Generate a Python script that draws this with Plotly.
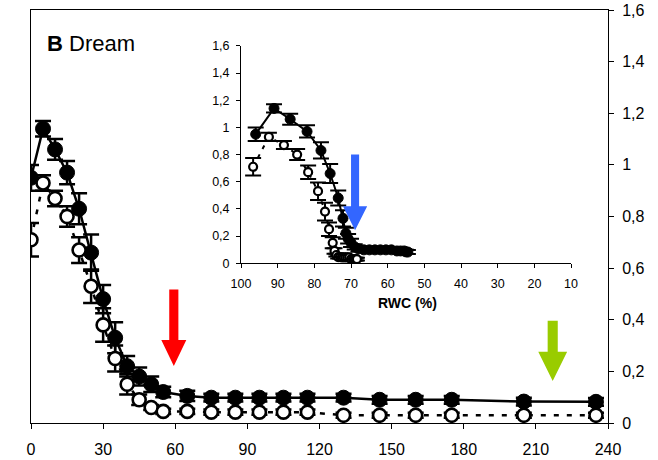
import plotly.graph_objects as go

# ---- data ----
time_days = [0, 5, 10, 15, 20, 25, 30, 35, 40, 45, 50, 55, 65, 75, 85, 95, 105, 115, 130, 145, 160, 175, 205, 235]
filled_y = [0.95, 1.14, 1.06, 0.97, 0.83, 0.66, 0.48, 0.33, 0.22, 0.18, 0.15, 0.12, 0.105, 0.098, 0.098, 0.098, 0.098, 0.098, 0.098, 0.09, 0.09, 0.09, 0.083, 0.082]
filled_err = [0.05, 0.03, 0.04, 0.045, 0.06, 0.07, 0.055, 0.06, 0.04, 0.035, 0.03, 0.02, 0.02, 0.015, 0.015, 0.015, 0.015, 0.015, 0.015, 0.015, 0.015, 0.015, 0.015, 0.015]
open_y = [0.71, 0.93, 0.87, 0.80, 0.67, 0.53, 0.38, 0.25, 0.15, 0.09, 0.06, 0.045, 0.045, 0.042, 0.042, 0.042, 0.042, 0.042, 0.03, 0.03, 0.03, 0.03, 0.03, 0.03]
open_err = [0.065, 0.03, 0.03, 0.04, 0.05, 0.065, 0.065, 0.05, 0.04, 0.02, 0.01, 0.01, 0.01, 0.01, 0.01, 0.01, 0.01, 0.01, 0.01, 0.01, 0.01, 0.01, 0.01, 0.01]

rwc_filled = [96, 91, 86.6, 82, 78.2, 75.7, 73.5, 72.2, 71.4, 70.8, 70, 69, 68, 66.5, 65, 63.5, 62, 60.5, 59, 57.5, 56.5, 55.5, 55, 54.5]
rwc_open = [96.7, 92.4, 88.3, 84.7, 81.7, 79, 77.1, 76, 75, 74.5, 74, 73.5, 73, 72.5, 72, 71.5, 71, 70.5, 70, 69.5, 69.2, 69, 68.7, 68.4]

x_ticks = [0, 30, 60, 90, 120, 150, 180, 210, 240]
y_ticks = [0, 0.2, 0.4, 0.6, 0.8, 1.0, 1.2, 1.4, 1.6]
y_ticklabels = ["0", "0,2", "0,4", "0,6", "0,8", "1", "1,2", "1,4", "1,6"]
inset_x_ticks = [100, 90, 80, 70, 60, 50, 40, 30, 20, 10]

FONT = "Liberation Sans, Arial, sans-serif"

fig = go.Figure()

# main plot
fig.add_trace(go.Scatter(
    x=time_days, y=filled_y, mode="lines+markers",
    line=dict(color="black", width=2.5),
    marker=dict(size=15, color="black", line=dict(color="black", width=1)),
    error_y=dict(type="data", array=filled_err, color="black", thickness=2.5, width=8),
    xaxis="x", yaxis="y", showlegend=False))
fig.add_trace(go.Scatter(
    x=time_days, y=open_y, mode="lines+markers",
    line=dict(color="black", width=2.5, dash="5px,8px"),
    marker=dict(size=13, color="white", line=dict(color="black", width=2.6)),
    error_y=dict(type="data", array=open_err, color="black", thickness=2.5, width=8),
    xaxis="x", yaxis="y", showlegend=False))

# inset
fig.add_trace(go.Scatter(
    x=rwc_filled, y=filled_y, mode="lines+markers",
    line=dict(color="black", width=2),
    marker=dict(size=10, color="black", line=dict(color="black", width=1)),
    error_y=dict(type="data", array=filled_err, color="black", thickness=2, width=8),
    xaxis="x2", yaxis="y2", showlegend=False))
fig.add_trace(go.Scatter(
    x=rwc_open, y=open_y, mode="lines+markers",
    line=dict(color="black", width=2, dash="4px,6px"),
    marker=dict(size=8, color="white", line=dict(color="black", width=2.2)),
    error_y=dict(type="data", array=open_err, color="black", thickness=2, width=8),
    xaxis="x2", yaxis="y2", showlegend=False))


def arrow(xc, y_top, y_neck, y_tip, shaft_hw, head_hw):
    return (f"M {xc - shaft_hw} {y_top} L {xc + shaft_hw} {y_top} L {xc + shaft_hw} {y_neck} "
            f"L {xc + head_hw} {y_neck} L {xc} {y_tip} L {xc - head_hw} {y_neck} "
            f"L {xc - shaft_hw} {y_neck} Z")


shapes = [
    dict(type="path", xref="x", yref="y", path=arrow(59.4, 0.517, 0.322, 0.221, 1.9, 5.2),
         fillcolor="#FF0000", line=dict(width=0), layer="above"),
    dict(type="path", xref="x", yref="y", path=arrow(217, 0.396, 0.276, 0.163, 2.1, 6.0),
         fillcolor="#99CC00", line=dict(width=0), layer="above"),
    dict(type="path", xref="x2", yref="y2", path=arrow(68.9, 0.80, 0.42, 0.243, 1.1, 3.3),
         fillcolor="#3366FF", line=dict(width=0), layer="above"),
]

fig.update_layout(
    width=658, height=460,
    margin=dict(l=31, r=50, t=10, b=37, autoexpand=False),
    paper_bgcolor="white", plot_bgcolor="white",
    font=dict(family=FONT, color="black", size=14),
    shapes=shapes,
    xaxis=dict(
        domain=[0, 1], range=[0, 240], tickvals=x_ticks, ticks="outside", ticklen=5,
        tickcolor="black", showline=True, linecolor="black", linewidth=1, mirror=True,
        showgrid=False, zeroline=False, automargin=False, ticklabelstandoff=7,
        tickfont=dict(size=16, family=FONT)),
    yaxis=dict(
        domain=[0, 1], range=[0, 1.6], side="right", tickvals=y_ticks, ticktext=y_ticklabels,
        ticks="outside", ticklen=5, tickcolor="black", showline=True, linecolor="black",
        linewidth=1, mirror=True, showgrid=False, zeroline=False, automargin=False,
        ticklabelstandoff=5, tickfont=dict(size=16, family=FONT)),
    xaxis2=dict(
        domain=[0.364, 0.936], anchor="y2", range=[100, 10], tickvals=inset_x_ticks,
        ticks="outside", ticklen=4, tickcolor="black", showline=True, linecolor="black",
        linewidth=1, showgrid=False, zeroline=False, automargin=False,
        ticklabelstandoff=5, tickfont=dict(size=12.5, family=FONT)),
    yaxis2=dict(
        domain=[0.387, 0.913], anchor="x2", range=[0, 1.6], tickvals=y_ticks,
        ticktext=y_ticklabels, ticks="outside", ticklen=4, tickcolor="black",
        showline=True, linecolor="black", linewidth=1, showgrid=False, zeroline=False,
        automargin=False, ticklabelstandoff=4, tickfont=dict(size=12.5, family=FONT)),
    annotations=[
        dict(text="<b>B</b> Dream", xref="paper", yref="paper", x=0.025, y=0.92,
             xanchor="left", yanchor="middle", showarrow=False,
             font=dict(size=22, family=FONT, color="black")),
        dict(text="<b>RWC (%)</b>", xref="x2", yref="paper", x=54.5, y=0.29,
             xanchor="center", yanchor="middle", showarrow=False,
             font=dict(size=14, family=FONT, color="black")),
    ],
)

fig.write_html("out.html", config={"displayModeBar": False},
               post_script="document.body.style.margin='0';document.body.style.padding='0';")
